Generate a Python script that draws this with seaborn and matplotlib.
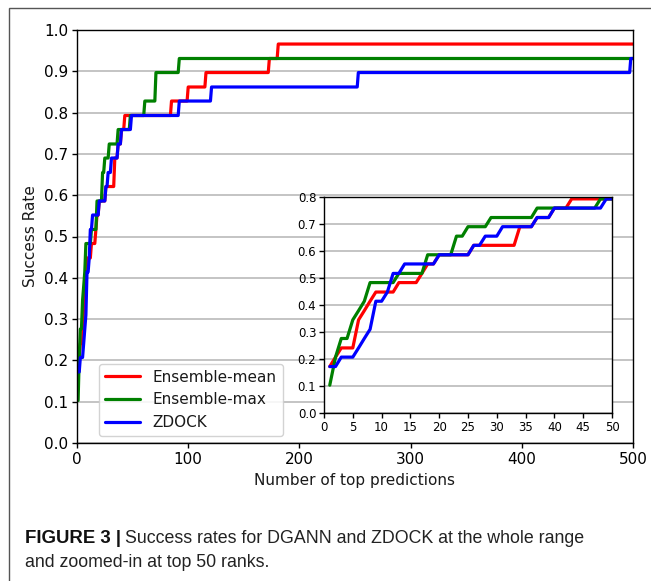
import matplotlib
matplotlib.use("Agg")
import matplotlib.pyplot as plt
import pandas as pd
import seaborn as sns
from matplotlib.patches import Rectangle
from matplotlib import font_manager

# Success rate vs. number of top-ranked predictions (vertices of each curve)
methods = ["Ensemble-mean", "Ensemble-max", "ZDOCK"]
colors = ["red", "green", "blue"]

mean_ranks = [1, 2, 3, 5, 6, 7, 8, 9, 12, 13, 16, 17, 18, 19, 20, 25, 26, 33, 34, 36,
              37, 39, 40, 42, 43, 84, 85, 99, 100, 115, 116, 172, 173, 180, 181, 500]
mean_rates = [.172, .207, .241, .241, .345, .379, .414, .448, .448, .483,
              .483, .517, .552, .552, .586, .586, .621, .621, .690, .690,
              .724, .724, .759, .759, .793, .793, .828, .828, .862, .862,
              .897, .897, .931, .931, .966, .966]

max_ranks = [1, 2, 3, 4, 5, 6, 7, 8, 12, 13, 17, 18, 22, 23, 24, 25, 28, 29, 36, 37,
             47, 48, 60, 61, 70, 71, 91, 92, 500]
max_rates = [.103, .207, .276, .276, .345, .379, .414, .483, .483, .517,
             .517, .586, .586, .655, .655, .690, .690, .724, .724, .759,
             .759, .793, .793, .828, .828, .897, .897, .931, .931]

zdock_ranks = [1, 2, 3, 5, 6, 7, 8, 9, 10, 11, 12, 13, 14, 19, 20, 25, 26, 27, 28, 30,
               31, 36, 37, 39, 40, 48, 49, 91, 92, 120, 121, 252, 253, 497, 498, 500]
zdock_rates = [.172, .172, .207, .207, .241, .276, .310, .414, .414, .448,
               .517, .517, .552, .552, .586, .586, .621, .621, .655, .655,
               .690, .690, .724, .724, .759, .759, .793, .793, .828, .828,
               .862, .862, .897, .897, .931, .931]

main_xticks = [0, 100, 200, 300, 400, 500]
main_yticks = [0.0, 0.1, 0.2, 0.3, 0.4, 0.5, 0.6, 0.7, 0.8, 0.9, 1.0]
inset_xticks = [0, 5, 10, 15, 20, 25, 30, 35, 40, 45, 50]
inset_yticks = [0.0, 0.1, 0.2, 0.3, 0.4, 0.5, 0.6, 0.7, 0.8]

frames = []
for name, r, v in zip(methods, [mean_ranks, max_ranks, zdock_ranks],
                      [mean_rates, max_rates, zdock_rates]):
    frames.append(pd.DataFrame({"rank": r, "rate": v, "method": name}))
df = pd.concat(frames, ignore_index=True)
palette = dict(zip(methods, colors))

sns.set_style("white")
plt.rcParams.update({
    "font.family": ["DejaVu Sans"],
    "axes.edgecolor": "black",
    "axes.linewidth": 1.0,
    "xtick.direction": "out",
    "ytick.direction": "out",
    "xtick.color": "black",
    "ytick.color": "black",
    "xtick.major.size": 3.5,
    "ytick.major.size": 3.5,
    "xtick.major.width": 1.0,
    "ytick.major.width": 1.0,
    "xtick.bottom": True,
    "ytick.left": True,
    "text.color": "#1a1a1a",
    "axes.labelcolor": "#1a1a1a",
})

W, H = 651, 581
fig = plt.figure(figsize=(W / 100, H / 100), dpi=100)

# main axes
ax = fig.add_axes([77 / W, 1 - 443 / H, (633 - 77) / W, (443 - 30) / H])
sns.lineplot(data=df, x="rank", y="rate", hue="method", hue_order=methods,
             palette=palette, estimator=None, sort=False, lw=2.3, ax=ax)
ax.set_xlim(0, 500)
ax.set_ylim(0, 1.0)
ax.set_xticks(main_xticks)
ax.set_yticks(main_yticks)
ax.set_yticklabels([f"{t:.1f}" for t in main_yticks])
ax.tick_params(labelsize=11, pad=3)
ax.yaxis.grid(True, color="#b4b4b4", lw=1.1)
ax.xaxis.grid(False)
ax.set_axisbelow(True)
ax.set_xlabel("Number of top predictions", fontsize=11)
ax.set_ylabel("Success Rate", fontsize=11)

handles, labels = ax.get_legend_handles_labels()
leg = ax.legend(handles, labels, loc="lower left",
                bbox_to_anchor=((99 - 77) / 556, (443 - 436) / 413),
                borderaxespad=0, fontsize=11, handlelength=2.3,
                frameon=True, fancybox=True, framealpha=0.85,
                edgecolor="#cccccc")
for h in leg.get_lines():
    h.set_linewidth(2.3)

# zoomed-in inset for the top 50 ranks
axin = fig.add_axes([324 / W, 1 - 413 / H, (612 - 324) / W, (413 - 197) / H])
sns.lineplot(data=df, x="rank", y="rate", hue="method",
             hue_order=methods, palette=palette, estimator=None, sort=False,
             lw=2.3, legend=False, ax=axin)
axin.set_facecolor("white")
axin.set_xlim(0, 50)
axin.set_ylim(0, 0.8)
axin.set_xticks(inset_xticks)
axin.set_yticks(inset_yticks)
axin.set_yticklabels([f"{t:.1f}" for t in inset_yticks])
axin.tick_params(labelsize=8.5, pad=2)
axin.yaxis.grid(True, color="#b4b4b4", lw=1.1)
axin.xaxis.grid(False)
axin.set_axisbelow(True)
axin.set_xlabel("")
axin.set_ylabel("")

# outer frame of the figure panel
fig.add_artist(Rectangle((9 / W, -0.1), 1.2, 1 - 8 / H + 0.1,
                         transform=fig.transFigure, fill=False,
                         edgecolor="#555555", lw=1.0))

# caption
names = {f.name for f in font_manager.fontManager.ttflist}
if "Liberation Sans Narrow" in names:
    cap_family, cap_size, bold_size = "Liberation Sans Narrow", 15, 15
else:
    cap_family, cap_size, bold_size = "Liberation Sans", 12.8, 13.4

renderer = fig.canvas.get_renderer()
x0, y1, y2 = 25 / W, 1 - 543 / H, 1 - 567 / H
t_bold = fig.text(x0, y1, "FIGURE 3 |", family=cap_family, size=bold_size,
                  weight="bold", color="#111111", va="baseline")
bb = t_bold.get_window_extent(renderer=renderer)
fig.text((bb.x1 + 4) / W, y1,
         "Success rates for DGANN and ZDOCK at the whole range",
         family=cap_family, size=cap_size, color="#222222", va="baseline")
fig.text(x0, y2, "and zoomed-in at top 50 ranks.", family=cap_family,
         size=cap_size, color="#222222", va="baseline")

fig.savefig("out.png", dpi=100)
